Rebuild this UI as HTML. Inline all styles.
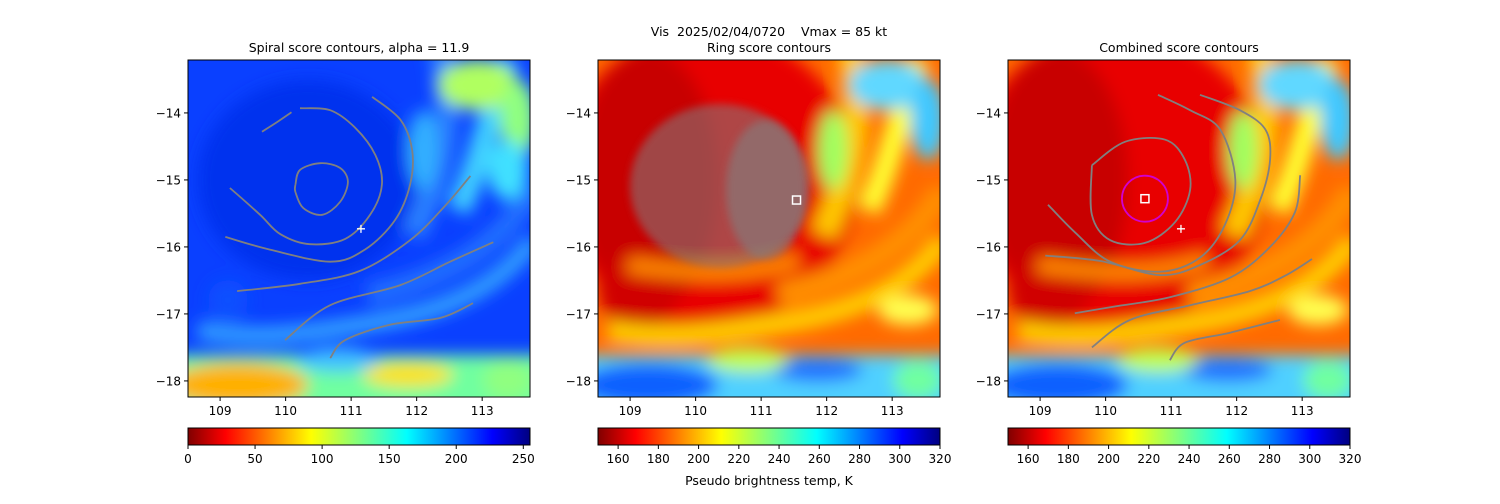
<!DOCTYPE html>
<html><head><meta charset="utf-8">
<style>
html,body{margin:0;padding:0;background:#fff;}
body{width:1500px;height:500px;overflow:hidden;font-family:"DejaVu Sans","Liberation Sans",sans-serif;}
svg text{font-family:"DejaVu Sans","Liberation Sans",sans-serif;}
</style></head>
<body>
<svg id="fig" width="1500" height="500" viewBox="0 0 1500 500" xmlns="http://www.w3.org/2000/svg">
<defs>
<filter id="blur8" x="-50%" y="-50%" width="200%" height="200%"><feGaussianBlur stdDeviation="8"/></filter>
<filter id="blur4" x="-50%" y="-50%" width="200%" height="200%"><feGaussianBlur stdDeviation="4"/></filter>
<linearGradient id="jetr" x1="0" x2="1" y1="0" y2="0">
<stop offset="0" stop-color="#800000"/><stop offset="0.11" stop-color="#ff0000"/>
<stop offset="0.36" stop-color="#ffff00"/><stop offset="0.5" stop-color="#80ff80"/>
<stop offset="0.64" stop-color="#00ffff"/><stop offset="0.89" stop-color="#0000ff"/>
<stop offset="1" stop-color="#000080"/></linearGradient>
<clipPath id="c1"><rect x="0" y="0" width="342" height="337"/></clipPath>
<g id="imgRing">
<rect x="-40" y="-40" width="422" height="417" fill="#ff6a00"/>
<g filter="url(#blur8)">
<ellipse cx="110" cy="120" rx="150" ry="150" fill="#e80000"/>
<ellipse cx="50" cy="120" rx="70" ry="130" fill="#c80000"/>
<ellipse cx="40" cy="230" rx="40" ry="40" fill="#d00000"/>
<path d="M250 -20 C 270 60 250 120 225 175" stroke="#ffc800" stroke-width="26" fill="none"/>
<path d="M320 0 C 300 60 290 110 270 150" stroke="#ffff30" stroke-width="24" fill="none"/>
<path d="M345 130 C 310 190 250 220 180 235" stroke="#ff9000" stroke-width="24" fill="none"/>
<path d="M200 200 C 150 215 100 215 30 205" stroke="#ff8800" stroke-width="16" fill="none"/>
<path d="M345 180 C 310 230 250 255 170 265 C 110 275 60 280 10 270" stroke="#ffd000" stroke-width="20" fill="none"/>
<ellipse cx="290" cy="25" rx="40" ry="25" fill="#60d8ff"/>
<ellipse cx="330" cy="60" rx="18" ry="40" fill="#40c8ff"/>
<ellipse cx="235" cy="90" rx="15" ry="40" fill="#a0ff60"/>
<ellipse cx="310" cy="250" rx="30" ry="15" fill="#ffff50"/>
<rect x="-40" y="295" width="422" height="90" fill="#50d0ff"/>
<ellipse cx="50" cy="325" rx="70" ry="22" fill="#1060ff"/>
<ellipse cx="220" cy="310" rx="45" ry="12" fill="#2070ff"/>
<ellipse cx="150" cy="300" rx="40" ry="12" fill="#c0ff50"/>
<ellipse cx="320" cy="320" rx="25" ry="20" fill="#70ffa0"/>
</g>
</g>
</defs>
</svg>
<script>
// ---- data ----
const xTicks=[109,110,111,112,113];
const yTicks=[-14,-15,-16,-17,-18];
const cb1Ticks=[0,50,100,150,200,250];
const cb2Ticks=[160,180,200,220,240,260,280,300,320];
const cb1Range=[0,255];
const cb2Range=[150,320];
const lonRange=[108.51,113.73];
const latRange=[-13.21,-18.24];
const spiralC1=[[110.15,-15.07],[110.22,-14.85],[110.53,-14.75],[110.83,-14.82],[110.95,-15.03],[110.83,-15.33],[110.56,-15.52],[110.27,-15.42],[110.15,-15.18],[110.15,-15.07]];
const spiralC2=[[109.15,-15.12],[109.61,-15.52],[109.92,-15.81],[110.37,-15.96],[110.91,-15.88],[111.29,-15.52],[111.47,-15.07],[111.37,-14.63],[111.06,-14.22],[110.68,-13.96],[110.22,-13.93]];
const spiralC3=[[109.64,-14.28],[109.88,-14.13],[110.09,-13.99]];
const spiralC4=[[109.08,-15.85],[109.76,-16.04],[110.68,-16.22],[111.21,-16.04],[111.67,-15.6],[111.9,-15.07],[111.93,-14.55],[111.75,-14.1],[111.32,-13.76]];
const spiralC5=[[109.26,-16.66],[110.22,-16.55],[111.13,-16.36],[111.9,-15.9],[112.43,-15.39],[112.82,-14.94]];
const spiralC6=[[109.99,-17.39],[110.68,-16.87],[111.75,-16.57],[112.51,-16.22],[113.17,-15.93]];
const spiralC7=[[110.68,-17.66],[110.91,-17.39],[111.6,-17.16],[112.36,-17.06],[112.86,-16.84]];
const combC1=[[109.79,-14.78],[110.3,-14.43],[110.91,-14.4],[111.21,-14.7],[111.29,-15.15],[111.06,-15.63],[110.6,-15.94],[110.07,-15.9],[109.79,-15.52],[109.79,-14.78]];
const combC2=[[109.12,-15.37],[109.53,-15.78],[110.07,-16.22],[110.83,-16.37],[111.44,-16.16],[111.82,-15.67],[111.98,-15.0],[111.75,-14.25],[111.29,-13.96],[110.8,-13.73]];
const combC3=[[109.08,-16.13],[109.92,-16.21],[110.83,-16.42],[111.44,-16.27],[112.05,-15.9],[112.36,-15.3],[112.51,-14.7],[112.44,-14.25],[112.05,-13.96],[111.44,-13.73]];
const combC4=[[109.53,-16.99],[110.07,-16.9],[110.98,-16.75],[111.9,-16.46],[112.51,-16.0],[112.89,-15.48],[112.97,-14.93]];
const combC5=[[109.79,-17.5],[110.37,-17.09],[111.29,-16.87],[112.2,-16.66],[112.74,-16.43],[113.15,-16.18]];
const combC6=[[110.98,-17.69],[111.21,-17.43],[111.9,-17.28],[112.66,-17.09]];
const centerPt=[111.15,-15.73];
const ringCenter=[111.54,-15.3];
const combCenter=[110.6,-15.28];

// ---- layout ----
const NS='http://www.w3.org/2000/svg';
const svg=document.getElementById('fig');
const panels=[{x:188,title:'Spiral score contours, alpha = 11.9',name:'spiral'},{x:598,title:'Ring score contours',name:'ring'},{x:1008,title:'Combined score contours',name:'combined'}];
const PW=342,PH=337,PY=60;
function mk(tag,attrs,parent){const e=document.createElementNS(NS,tag);for(const k in attrs)e.setAttribute(k,attrs[k]);(parent||svg).appendChild(e);return e;}
function sx(px,lon){return px+(lon-lonRange[0])/(lonRange[1]-lonRange[0])*PW;}
function sy(lat){return PY+(lat-latRange[0])/(latRange[1]-latRange[0])*PH;}
function fmt(v){return v<0?'\u2212'+Math.abs(v):String(v);}

panels.forEach((p,i)=>{
  const g=mk('g',{});
  
  
  const img=mk('g',{transform:`translate(${p.x},${PY})`,'clip-path':'url(#c1)'},g);
  
  
  if(i===0){
    mk('rect',{x:-40,y:-40,width:422,height:417,fill:'#0a40ff'},img);
    const b=mk('g',{filter:'url(#blur8)'},img);
    mk('ellipse',{cx:120,cy:120,rx:110,ry:100,fill:'#0530ee'},b);
    [['M250 -20 C 270 60 250 120 225 175',24,'#2a80ff'],
     ['M320 0 C 300 60 290 110 270 150',24,'#40d0ff'],
     ['M345 130 C 310 190 250 220 180 235',22,'#2070ff'],
     ['M345 180 C 310 230 250 255 170 265 C 110 275 60 280 10 270',18,'#30a0ff']].forEach(d=>mk('path',{d:d[0],'stroke-width':d[1],stroke:d[2],fill:'none'},b));
    mk('ellipse',{cx:290,cy:25,rx:40,ry:25,fill:'#b0ff60'},b);
    mk('ellipse',{cx:330,cy:60,rx:18,ry:40,fill:'#90ff80'},b);
    mk('ellipse',{cx:235,cy:90,rx:15,ry:40,fill:'#30b0ff'},b);
    mk('ellipse',{cx:320,cy:110,rx:20,ry:30,fill:'#40e0ff'},b);
    mk('rect',{x:-40,y:295,width:422,height:90,fill:'#70ffa0'},b);
    mk('ellipse',{cx:50,cy:325,rx:70,ry:22,fill:'#ffb000'},b);
    mk('ellipse',{cx:220,cy:315,rx:45,ry:12,fill:'#ffe000'},b);
    mk('ellipse',{cx:150,cy:300,rx:40,ry:12,fill:'#40c0ff'},b);
    mk('ellipse',{cx:320,cy:320,rx:25,ry:20,fill:'#90ff80'},b);
    mk('ellipse',{cx:40,cy:240,rx:20,ry:20,fill:'#1050ff'},b);
  } else {
    mk('use',{href:'#imgRing'},img);
  }
  if(i===1){
    const blob=mk('ellipse',{cx:122,cy:126,rx:90,ry:82,fill:'#808080','fill-opacity':0.55,filter:'url(#blur4)'},img);
    
    
    mk('ellipse',{cx:168,cy:130,rx:40,ry:70,fill:'#808080','fill-opacity':0.6,filter:'url(#blur4)'},img);
  }
  mk('rect',{x:p.x,y:PY,width:PW,height:PH,fill:'none',stroke:'#000','stroke-width':1},g);
  const t=mk('text',{x:p.x+PW/2,y:52,'text-anchor':'middle','font-size':12.5},g);
  t.textContent=p.title;
  
  
  xTicks.forEach(v=>{const x=sx(p.x,v);mk('line',{x1:x,x2:x,y1:PY+PH,y2:PY+PH+4,stroke:'#000'},g);
    const tl=mk('text',{x:x,y:PY+PH+18,'text-anchor':'middle','font-size':12},g);tl.textContent=fmt(v);
    
    });
  yTicks.forEach(v=>{const y=sy(v);mk('line',{x1:p.x-4,x2:p.x,y1:y,y2:y,stroke:'#000'},g);
    const tl=mk('text',{x:p.x-7,y:y+4.5,'text-anchor':'end','font-size':12},g);tl.textContent=fmt(v);
    
    });
  const cy=428;
  const cbar=mk('rect',{x:p.x,y:cy,width:PW,height:17,fill:'url(#jetr)',stroke:'#000','stroke-width':1},g);
  
  
  const ticks=i===0?cb1Ticks:cb2Ticks, rng=i===0?cb1Range:cb2Range;
  ticks.forEach(v=>{const x=p.x+(v-rng[0])/(rng[1]-rng[0])*PW;mk('line',{x1:x,x2:x,y1:cy+17,y2:cy+21,stroke:'#000'},g);
    const tl=mk('text',{x:x,y:cy+35,'text-anchor':'middle','font-size':12},g);tl.textContent=String(v);
    
    });
});

function contour(px,pts,name){
  const P=pts.map(q=>[sx(px,q[0]),sy(q[1])]);
  let d='M'+P[0][0].toFixed(1)+' '+P[0][1].toFixed(1);
  for(let k=0;k<P.length-1;k++){
    const p0=P[Math.max(0,k-1)],p1=P[k],p2=P[k+1],p3=P[Math.min(P.length-1,k+2)];
    const c1=[p1[0]+(p2[0]-p0[0])/6,p1[1]+(p2[1]-p0[1])/6];
    const c2=[p2[0]-(p3[0]-p1[0])/6,p2[1]-(p3[1]-p1[1])/6];
    d+=` C${c1[0].toFixed(1)} ${c1[1].toFixed(1)} ${c2[0].toFixed(1)} ${c2[1].toFixed(1)} ${p2[0].toFixed(1)} ${p2[1].toFixed(1)}`;
  }
  const e=mk('path',{d:d,fill:'none',stroke:'#808080','stroke-width':1.8,'stroke-linejoin':'round'});
  
  
}
[spiralC1,spiralC2,spiralC3,spiralC4,spiralC5,spiralC6,spiralC7].forEach((c,k)=>contour(188,c,'spiral-contour-'+(k+1)));
[combC1,combC2,combC3,combC4,combC5,combC6].forEach((c,k)=>contour(1008,c,'combined-contour-'+(k+1)));

function plus(px,pt,name){const x=sx(px,pt[0]),y=sy(pt[1]);
  const e=mk('path',{d:`M${x-4} ${y}H${x+4}M${x} ${y-4}V${y+4}`,stroke:'#fff','stroke-width':1.3});
  
  }
plus(188,centerPt,'spiral-center-marker');
plus(1008,centerPt,'combined-spiral-center-marker');
function sq(px,pt,name){const x=sx(px,pt[0]),y=sy(pt[1]);
  const e=mk('rect',{x:x-4,y:y-4,width:8,height:8,fill:'none',stroke:'#fff','stroke-width':1.5});
  
  }
sq(598,ringCenter,'ring-center-marker');
const circ=mk('circle',{cx:sx(1008,combCenter[0]),cy:sy(combCenter[1]),r:23,fill:'none',stroke:'#d000d0','stroke-width':1.8});


sq(1008,combCenter,'combined-center-marker');

const st=mk('text',{x:769,y:36,'text-anchor':'middle','font-size':12.5,style:'white-space:pre'});
st.textContent='Vis  2025/02/04/0720    Vmax = 85 kt';


const cl=mk('text',{x:769,y:485,'text-anchor':'middle','font-size':12.5});
cl.textContent='Pseudo brightness temp, K';


</script>
</body></html>
